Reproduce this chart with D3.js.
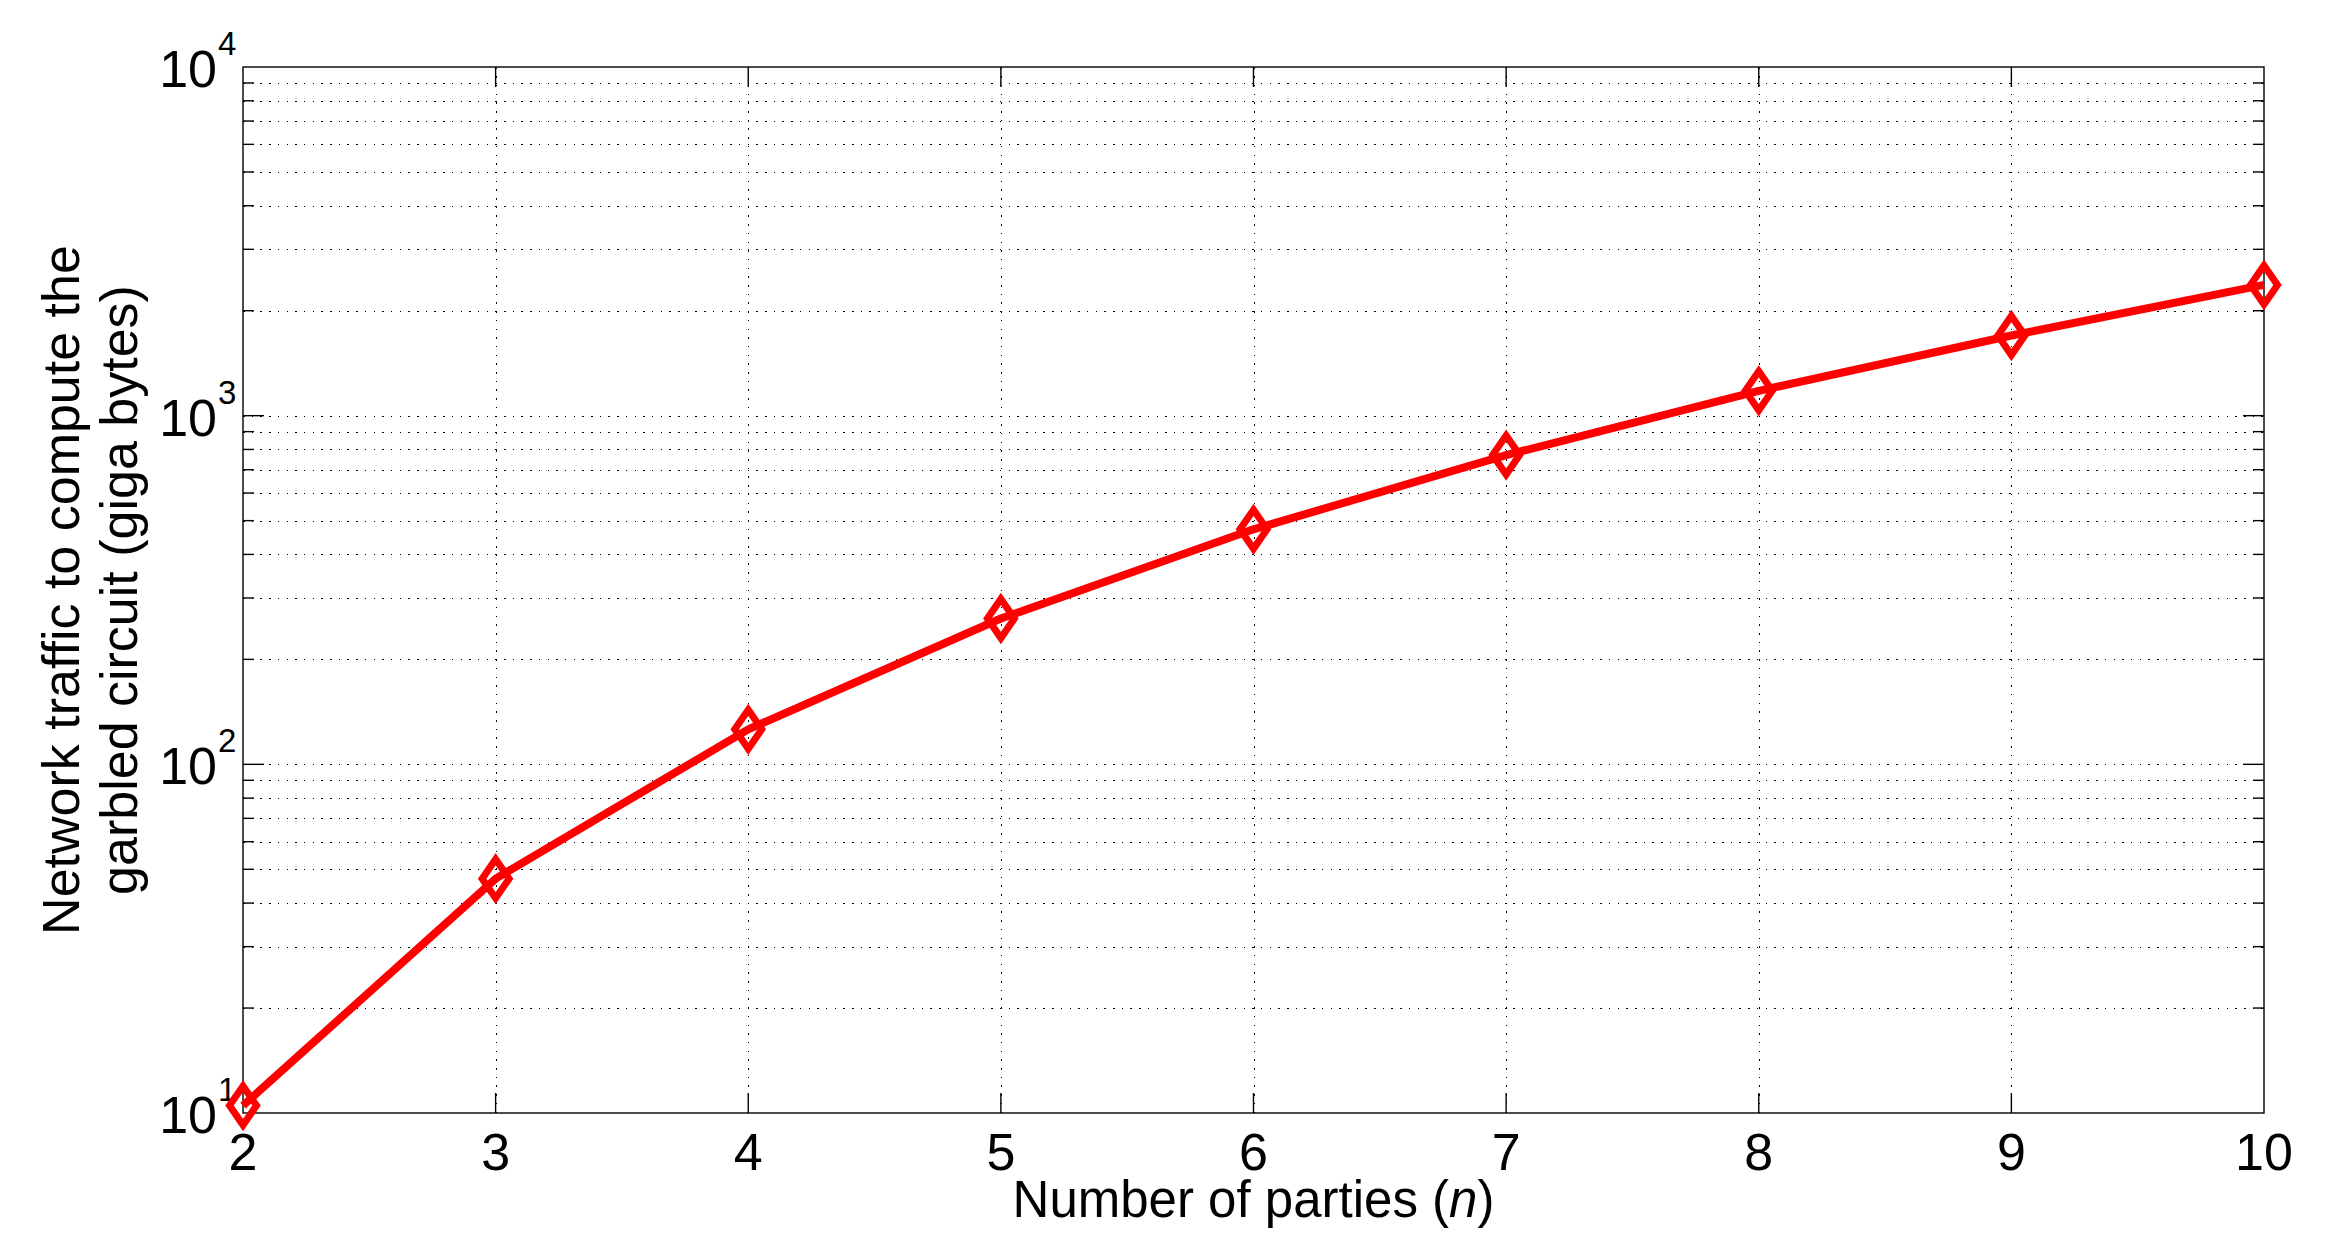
<!DOCTYPE html>
<html>
<head>
<meta charset="utf-8">
<script src="https://cdnjs.cloudflare.com/ajax/libs/d3/7.8.5/d3.min.js"></script>
<style>
  body { margin: 0; background: #fff; }
  text { font-family: "Liberation Sans", Arial, Helvetica, sans-serif; fill: #000; }
</style>
</head>
<body>
<div class="chart"></div>
<script>
// data
const parties = [2, 3, 4, 5, 6, 7, 8, 9, 10]
const traffic = [10.5, 47, 126, 262, 472, 771, 1178, 1698, 2371]

const xTicks = [2, 3, 4, 5, 6, 7, 8, 9, 10]
const yMajor = [10, 100, 1000, 10000]
const yExp = ["1", "2", "3", "4"]

const margin = ({top: 67, right: 75, bottom: 143, left: 243})
const W = 2339, H = 1256
const width = W - margin.left - margin.right,
      height = H - margin.top - margin.bottom

const svg = d3.select(".chart").append("svg")
    .attr("width", W)
    .attr("height", H)
    .style("display", "block")

svg.append("rect").attr("width", W).attr("height", H).attr("fill", "#fff")

const g = svg.append("g")
    .attr("transform", "translate(" + margin.left + "," + margin.top + ")")

const xScale = d3.scaleLinear().domain([2, 10]).range([0, width])
const yScale = d3.scaleLog().domain([10, 10000]).range([height, 0])

// minor + major y values inside the box
let yGrid = []
for (let d = 10; d < 10000; d *= 10) {
  for (let k = 1; k < 10; k++) {
    const v = k * d
    if (v > 10 && v < 10000) yGrid.push(v)
  }
}

const dots = "1.5,7.2"
const snap = v => Math.round(v) + 0.5

// grid
g.selectAll(".hgrid").data(yGrid).enter().append("line")
  .attr("class", "hgrid")
  .attr("x1", 0).attr("x2", width)
  .attr("y1", d => snap(yScale(d))).attr("y2", d => snap(yScale(d)))
  .attr("stroke", "#000").attr("stroke-width", 1)
  .attr("stroke-dasharray", dots)
  .attr("shape-rendering", "crispEdges")

g.selectAll(".vgrid").data(xTicks.slice(1, -1)).enter().append("line")
  .attr("class", "vgrid")
  .attr("x1", d => snap(xScale(d))).attr("x2", d => snap(xScale(d)))
  .attr("y1", height).attr("y2", 0)
  .attr("stroke", "#000").attr("stroke-width", 1)
  .attr("stroke-dasharray", dots)
  .attr("shape-rendering", "crispEdges")

// ticks, inside on all four sides
const isMajor = v => yMajor.includes(v)
const tickLen = v => isMajor(v) ? 21 : 11

g.selectAll(".ytl").data(yGrid).enter().append("line")
  .attr("x1", 0).attr("x2", d => tickLen(d))
  .attr("y1", d => yScale(d)).attr("y2", d => yScale(d))
  .attr("stroke", "#000").attr("stroke-width", 1.4)

g.selectAll(".ytr").data(yGrid).enter().append("line")
  .attr("x1", width).attr("x2", d => width - tickLen(d))
  .attr("y1", d => yScale(d)).attr("y2", d => yScale(d))
  .attr("stroke", "#000").attr("stroke-width", 1.4)

g.selectAll(".xtb").data(xTicks.slice(1, -1)).enter().append("line")
  .attr("x1", d => xScale(d)).attr("x2", d => xScale(d))
  .attr("y1", height).attr("y2", height - 20)
  .attr("stroke", "#000").attr("stroke-width", 1.4)

g.selectAll(".xtt").data(xTicks.slice(1, -1)).enter().append("line")
  .attr("x1", d => xScale(d)).attr("x2", d => xScale(d))
  .attr("y1", 0).attr("y2", 20)
  .attr("stroke", "#000").attr("stroke-width", 1.4)

// box
g.append("rect")
  .attr("width", width).attr("height", height)
  .attr("fill", "none").attr("stroke", "#000").attr("stroke-width", 1.4)

// x tick labels
g.selectAll(".xlab").data(xTicks).enter().append("text")
  .attr("x", d => xScale(d))
  .attr("y", height + 57)
  .attr("text-anchor", "middle")
  .style("font-size", "52px")
  .text(d => d)

// y tick labels 10^k
yMajor.forEach((v, i) => {
  g.append("text")
    .attr("x", -26).attr("y", yScale(v) + 20)
    .attr("text-anchor", "end")
    .style("font-size", "52px")
    .text("10")
  g.append("text")
    .attr("x", -25).attr("y", yScale(v) - 12)
    .attr("text-anchor", "start")
    .style("font-size", "33px")
    .text(yExp[i])
})

// axis titles
const xt = g.append("text")
  .attr("x", width / 2).attr("y", height + 104)
  .attr("text-anchor", "middle")
  .style("font-size", "51px")
xt.append("tspan").text("Number of parties (")
xt.append("tspan").style("font-style", "italic").text("n")
xt.append("tspan").text(")")

const yt = svg.append("text")
  .attr("transform", "translate(79," + (margin.top + height / 2) + ") rotate(-90)")
  .attr("text-anchor", "middle")
  .style("font-size", "52px")
yt.append("tspan").attr("x", 0).attr("y", 0).text("Network traffic to compute the")
yt.append("tspan").attr("x", 0).attr("y", 58).text("garbled circuit (giga bytes)")

// series
const line = d3.line()
  .x((d, i) => xScale(parties[i]))
  .y(d => yScale(d))

g.append("path")
  .datum(traffic)
  .attr("d", line)
  .attr("fill", "none")
  .attr("stroke", "#ff0000")
  .attr("stroke-width", 8)
  .attr("stroke-linejoin", "round")

const mw = 13.5, mh = 19.5
g.selectAll(".mark").data(traffic).enter().append("path")
  .attr("class", "mark")
  .attr("d", `M0,${-mh}L${mw},0L0,${mh}L${-mw},0Z`)
  .attr("transform", (d, i) => "translate(" + xScale(parties[i]) + "," + yScale(d) + ")")
  .attr("fill", "none")
  .attr("stroke", "#ff0000")
  .attr("stroke-width", 7)
  .attr("stroke-linejoin", "miter")
</script>
</body>
</html>
